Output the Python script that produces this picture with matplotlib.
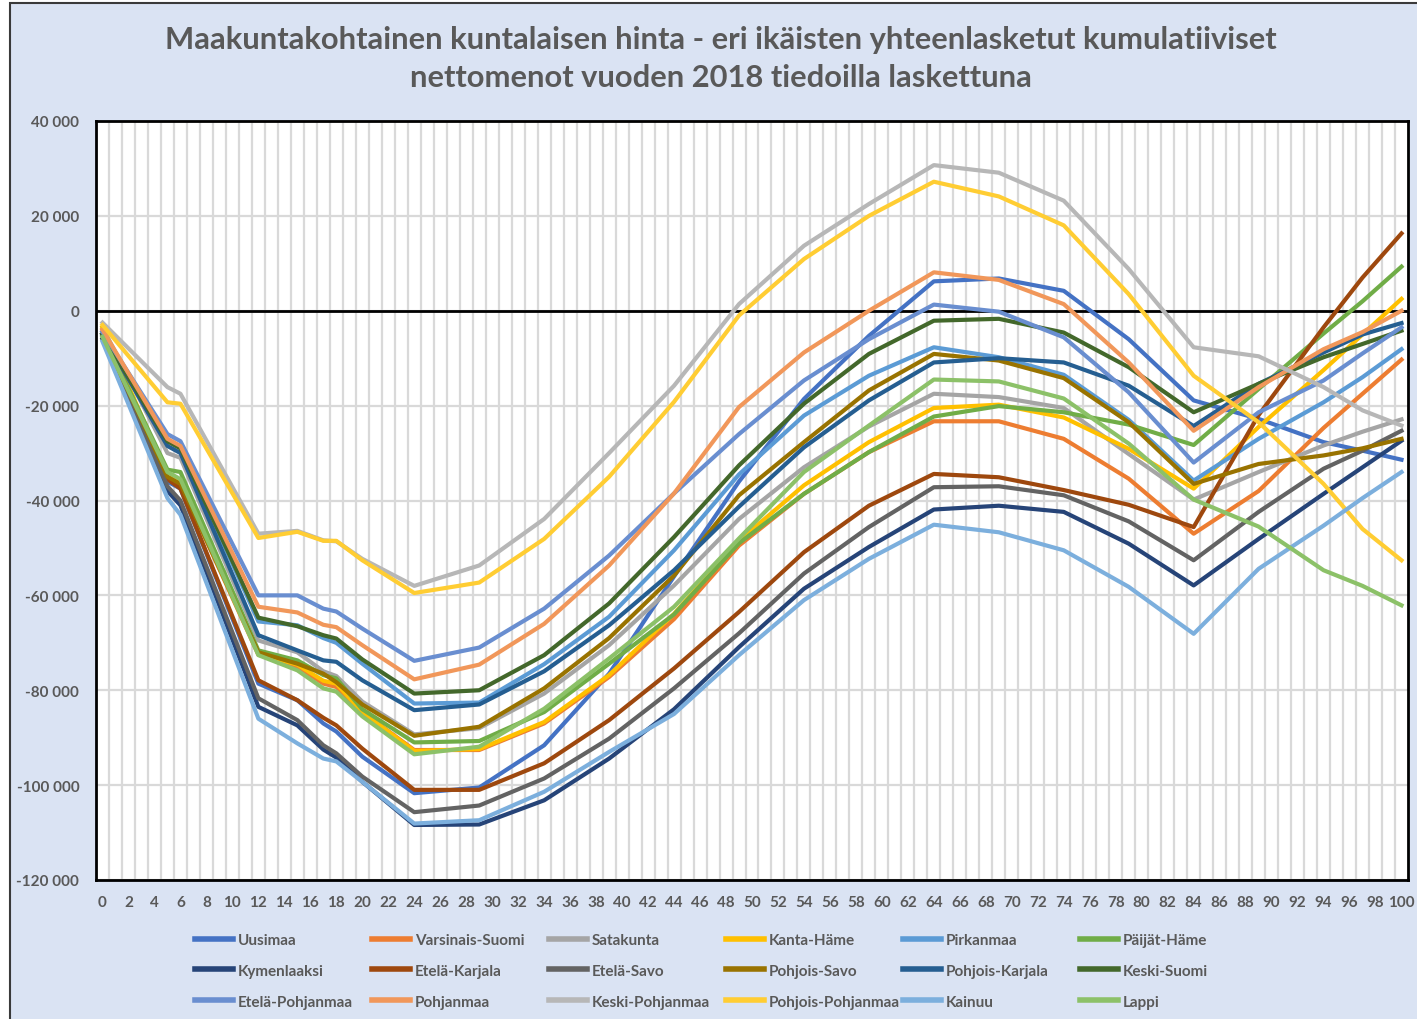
import numpy as np
import matplotlib
matplotlib.use("Agg")
import matplotlib.pyplot as plt
from matplotlib.patches import Rectangle
from matplotlib.ticker import FuncFormatter, MultipleLocator

plt.rcParams['font.family'] = ['Lato', 'DejaVu Sans']

# ages where the curves bend
ages = [0, 5, 6, 12, 15, 17, 18, 20, 24, 29, 34, 39, 44, 49, 54, 59, 64, 69, 74, 79, 84, 89, 94, 97, 100]

# cumulative net costs, thousands of euros
uusimaa = [-4.5, -36, -37.5, -78.6, -82.1, -87, -88.7, -94, -101.7, -100.5, -91.6, -76.5, -56, -36, -18.6, -5.3, 6.2, 6.8, 4.2, -6, -18.9, -22.8, -27.7, -29.5, -31.4]
varsinais_suomi = [-4, -35, -36.5, -72.5, -75, -78.6, -79.3, -84.6, -92.6, -92.6, -87, -77.2, -65, -49.5, -38.6, -29.8, -23.3, -23.3, -27, -35.4, -47, -38, -24.7, -17.5, -10.3]
satakunta = [-3.5, -30, -31, -69.5, -72, -76, -77, -82.4, -89.3, -88, -80.7, -70.5, -57.9, -43.9, -33, -24.4, -17.5, -18.2, -20.5, -30.2, -39.8, -34, -28.4, -25.5, -22.9]
kanta_hame = [-3.5, -34.5, -36, -72.3, -74.6, -78, -78.6, -84.6, -92.8, -92.4, -86.7, -76.8, -63.9, -48.5, -36.8, -27.7, -20.5, -19.8, -22.5, -29.1, -37.5, -24.5, -12.5, -5, 2.5]
pirkanmaa = [-5, -27.5, -29, -65.5, -66.3, -69, -70, -74.4, -82.8, -82.6, -74.5, -64.5, -50.5, -34.5, -22.1, -13.7, -7.7, -9.8, -13.5, -23, -35.8, -27, -19.3, -14, -8.1]
paijat_hame = [-5, -33.5, -34, -71.6, -73.7, -76.8, -77.5, -84, -91, -90.7, -84.6, -74.4, -64, -49, -38.6, -29.8, -22.3, -20.1, -21.4, -24, -28.3, -16.5, -4.8, 2, 9.3]
kymenlaakso = [-6, -38, -41, -83.5, -87.4, -92.5, -94.2, -99.3, -108.4, -108.3, -103.2, -94.4, -84, -70.9, -58.6, -49.8, -41.9, -41.1, -42.4, -49.1, -57.9, -48.1, -38.6, -33, -27.4]
etela_karjala = [-5, -35.5, -37.5, -77.9, -82.1, -85.8, -87.4, -92.3, -101, -101, -95.4, -86.3, -75.4, -63.5, -50.9, -41.1, -34.4, -35.1, -37.8, -40.9, -45.6, -22, -3.5, 7, 16.3]
etela_savo = [-5.5, -37, -40, -81.7, -86.3, -91.6, -93.3, -98.2, -105.7, -104.3, -98.6, -90.2, -79.6, -68, -55.4, -45.6, -37.2, -37, -38.9, -44.4, -52.6, -42.4, -33.3, -29.5, -25.3]
pohjois_savo = [-5, -35, -36.5, -72, -74.4, -76.5, -78.3, -83, -89.6, -87.7, -79.6, -69, -55.8, -38.9, -27.7, -16.8, -9.1, -10.5, -14.2, -23.5, -36.5, -32.3, -30.5, -29, -27]
pohjois_karjala = [-5, -28.5, -30, -68.4, -71.6, -73.7, -74, -77.9, -84.2, -83, -76, -66.3, -54.7, -41.3, -28.8, -18.9, -10.9, -10, -10.9, -15.8, -24.3, -15.4, -8.8, -5, -2.6]
keski_suomi = [-5, -27.5, -29, -64.7, -66.5, -68.4, -69.1, -73.5, -80.7, -80, -72.6, -61.7, -47.7, -32.6, -19.6, -9.1, -2.1, -1.7, -4.6, -11.9, -21.4, -15.4, -9.8, -7, -4.2]
etela_pohjanmaa = [-4.5, -26, -27.5, -60, -60, -62.8, -63.4, -67, -73.8, -71, -62.8, -51.6, -38.5, -26, -14.7, -6, 1.3, -0.2, -5.6, -17.2, -32, -21.4, -14.7, -9, -3.5]
pohjanmaa = [-4, -27, -28.5, -62.4, -63.6, -66.2, -66.7, -70.5, -77.7, -74.6, -66, -53.7, -38.5, -20.3, -8.8, 0, 8.1, 6.5, 1.4, -10.9, -25.3, -16.1, -8.1, -4.5, 0]
keski_pohjanmaa = [-2.5, -16.1, -17.5, -47, -46.4, -48.4, -48.6, -52.3, -58, -53.7, -43.9, -30, -15.8, 1.4, 13.7, 22.5, 30.7, 29.1, 23.2, 8.8, -7.7, -9.6, -16.1, -21, -24.2]
pohjois_pohjanmaa = [-3, -19.3, -19.6, -47.9, -46.6, -48.5, -48.5, -52.6, -59.5, -57.3, -48.1, -35, -19.2, -1, 10.9, 20, 27.2, 24.1, 18, 3.5, -13.7, -23.5, -36.5, -46, -52.6]
kainuu = [-6.5, -39.5, -43, -86, -91.2, -94.4, -95, -99.3, -108.1, -107.4, -101.4, -93, -85, -72.6, -61, -52.3, -45.1, -46.7, -50.5, -58.2, -68.1, -54.4, -45.3, -39.5, -34]
lappi = [-5.5, -34, -35.5, -72.6, -75.8, -79.6, -80.3, -85.5, -93.5, -91.9, -83.9, -73.3, -62.4, -48, -34, -24.2, -14.5, -14.9, -18.5, -28, -39.8, -45.5, -54.7, -58, -62.1]

names = ['Uusimaa', 'Varsinais-Suomi', 'Satakunta', 'Kanta-Häme', 'Pirkanmaa', 'Päijät-Häme',
         'Kymenlaaksi', 'Etelä-Karjala', 'Etelä-Savo', 'Pohjois-Savo', 'Pohjois-Karjala', 'Keski-Suomi',
         'Etelä-Pohjanmaa', 'Pohjanmaa', 'Keski-Pohjanmaa', 'Pohjois-Pohjanmaa', 'Kainuu', 'Lappi']
series = [uusimaa, varsinais_suomi, satakunta, kanta_hame, pirkanmaa, paijat_hame,
          kymenlaakso, etela_karjala, etela_savo, pohjois_savo, pohjois_karjala, keski_suomi,
          etela_pohjanmaa, pohjanmaa, keski_pohjanmaa, pohjois_pohjanmaa, kainuu, lappi]
colors = ['#4472C4', '#ED7D31', '#A5A5A5', '#FFC000', '#5B9BD5', '#70AD47',
          '#264478', '#9E480E', '#636363', '#997300', '#255E91', '#43682B',
          '#698ED0', '#F1975A', '#B7B7B7', '#FFCD33', '#7CAFDD', '#8CC168']

W, H = 1417, 1020
text_col = '#595959'
bg = '#DAE3F3'

fig = plt.figure(figsize=(W / 100, H / 100), dpi=100, facecolor='white')
fig.patches.append(Rectangle((10 / W, -0.05), 1.1, 1 - 4 / H + 0.05, transform=fig.transFigure,
                             facecolor=bg, edgecolor='#3a3a3a', lw=1.5, zorder=-5))

ax = fig.add_axes([96 / W, 1 - 881 / H, (1408 - 96) / W, (881 - 122) / H])
ax.set_facecolor('white')

lines = []
for name, vals, c in zip(names, series, colors):
    ln, = ax.plot(ages, np.array(vals) * 1000, color=c, lw=3.0, label=name, solid_joinstyle='round')
    lines.append(ln)

ax.axhline(0, color='black', lw=2, zorder=1.5)

ax.set_xlim(-0.5, 100.5)
ax.set_ylim(-120000, 40000)
ax.set_xticks(range(0, 101, 2))
ax.set_xticks(np.arange(0.5, 100, 1), minor=True)
ax.yaxis.set_major_locator(MultipleLocator(20000))
ax.yaxis.set_major_formatter(FuncFormatter(lambda v, p: f"{v:,.0f}".replace(',', ' ')))
ax.grid(True, which='minor', axis='x', color='#D9D9D9', lw=1.6)
ax.grid(True, which='major', axis='y', color='#D9D9D9', lw=1.6)
ax.set_axisbelow(True)
ax.tick_params(which='both', length=0)
ax.tick_params(axis='y', pad=12, labelsize=11, labelcolor=text_col)
ax.tick_params(axis='x', pad=11, labelsize=11, labelcolor=text_col)
for lab in ax.get_xticklabels() + ax.get_yticklabels():
    lab.set_fontweight('bold')
for s in ax.spines.values():
    s.set_color('black')
    s.set_linewidth(2)

fig.text(721 / W, 1 - 40 / H, 'Maakuntakohtainen kuntalaisen hinta - eri ikäisten yhteenlasketut kumulatiiviset',
         ha='center', va='center', fontsize=22.2, fontweight='bold', color=text_col)
fig.text(721 / W, 1 - 78 / H, 'nettomenot vuoden 2018 tiedoilla laskettuna',
         ha='center', va='center', fontsize=22.2, fontweight='bold', color=text_col)

# legend: six columns, three rows
col_x = [195, 372, 549, 726, 903, 1080]
for c in range(6):
    idx = [c, c + 6, c + 12]
    leg = fig.legend([lines[i] for i in idx], [names[i] for i in idx],
                     loc='upper left', bbox_to_anchor=(col_x[c] / W, 1 - 934 / H),
                     frameon=False, borderpad=0, borderaxespad=0, handlelength=2.5,
                     handletextpad=0.3, labelspacing=1.1, prop={'size': 11, 'weight': 'bold'})
    for t in leg.get_texts():
        t.set_color(text_col)
    for h in leg.legend_handles:
        h.set_linewidth(4)

fig.savefig('out.png', dpi=100, facecolor=fig.get_facecolor())
